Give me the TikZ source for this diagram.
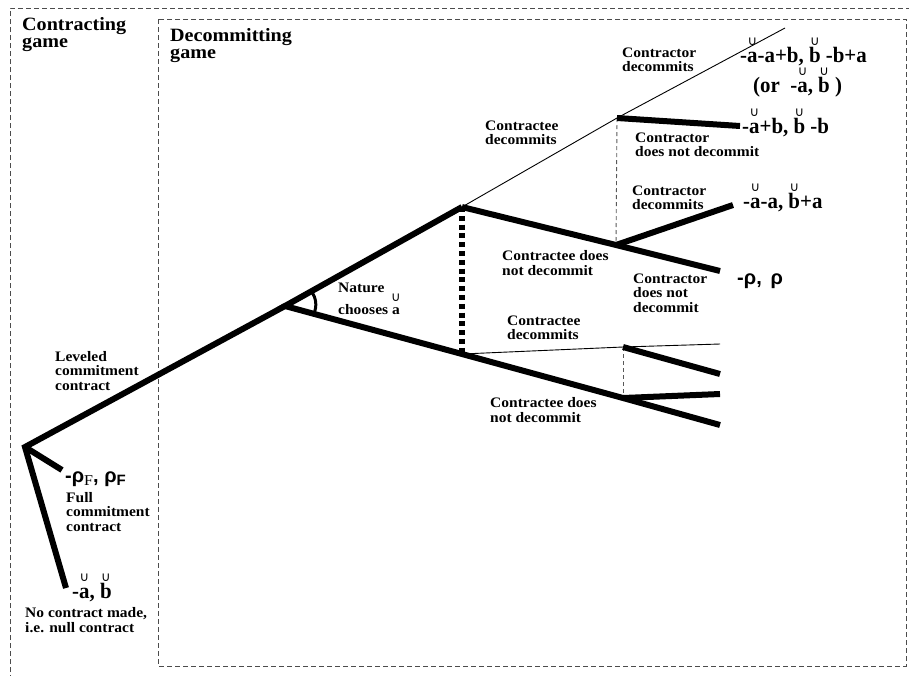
\documentclass[tikz,border=0pt]{standalone}
\usepackage{fontspec}
\setmainfont{Liberation Serif}[FakeStretch=1.07]
\newfontfamily\valfont{Liberation Serif}[FakeStretch=0.95]
\newfontfamily\rhofont{Liberation Sans}
\newfontfamily\cupfont{DejaVu Sans}
\newcommand{\cupon}[2][16.5pt]{\leavevmode\setbox0=\hbox{#2}\rlap{\hbox to \wd0{\hss\raisebox{#1}{\cupfont\mdseries\fontsize{13}{13}\selectfont ∪}\hss}}\box0}
\tikzset{
  thickedge/.style={line width=6pt, line join=miter, line cap=butt},
  thinedge/.style={line width=0.9pt},
  infoset/.style={line width=0.9pt, gray!70!black, dash pattern=on 4pt off 3pt},
  chanceset/.style={line width=6pt, dash pattern=on 5pt off 3.8pt},
  gamebox/.style={line width=0.8pt, gray!60!black, dash pattern=on 5pt off 3pt},
  lbl/.style={font=\bfseries\fontsize{14.5}{14.5}\selectfont, align=left, inner sep=0pt, anchor=west},
  ttl/.style={font=\bfseries\fontsize{18.8}{17}\selectfont, align=left, inner sep=0pt, anchor=west},
  val/.style={font=\valfont\bfseries\fontsize{22}{22}\selectfont, inner sep=0pt, anchor=base west},
  rhoval/.style={font=\rhofont\bfseries\fontsize{20}{20}\selectfont, inner sep=0pt, anchor=base west},
}
\begin{document}
\begin{tikzpicture}[x=1pt,y=-1pt]
\useasboundingbox (0,0) rectangle (909,675);
% boxes
\draw[gamebox] (10,680) -- (10,8) -- (915,8);
\draw[gamebox] (158,19) rectangle (906,666);
% tree coordinates
\coordinate (R) at (25,447);
\coordinate (N) at (285,306);
\coordinate (F) at (62,470);
\coordinate (Z) at (66,588);
\coordinate (U1) at (462,207);
\coordinate (L1) at (462,354);
\coordinate (C1) at (617,118);
\coordinate (C1d) at (785,28);
\coordinate (C1n) at (740,126);
\coordinate (C2) at (616,245);
\coordinate (C2d) at (733,205);
\coordinate (C2n) at (720,271);
\coordinate (C3) at (623,347);
\coordinate (C3d) at (720,344);
\coordinate (C3n) at (720,374);
\coordinate (C4) at (623,398);
\coordinate (C4d) at (720,394);
\coordinate (C4n) at (720,425);
% dashed info sets
\draw[infoset] (C1) -- (C2);
\draw[infoset] (C3) -- (C4);
% chance information set
\draw[chanceset] (U1) -- (L1);
% thin edges
\draw[thinedge] (U1) -- (C1) -- (C1d);
\draw[thinedge] (L1) -- (C3) -- (C3d);
% thick edges
\draw[thickedge] (Z) -- (R) -- (N);
\draw[thickedge] (R) -- (F);
\draw[thickedge] (U1) -- (N) -- (L1) -- (C4) -- (C4n);
\draw[thickedge] (U1) -- (C2) -- (C2n);
\draw[thickedge] (C2) -- (C2d);
\draw[thickedge] (C1) -- (C1n);
\draw[thickedge] (C3) -- (C3n);
\draw[thickedge] (C4) -- (C4d);
% nature arc
\draw[line width=3pt] (313.9,313.9) .. controls (317,306) and (316.5,298) .. (311.1,291.2);
% titles
\node[ttl] (t1) at (22,35) {Contracting\\game};
\node[ttl] (t2) at (170,46) {Decommitting\\game};
% labels
\node[lbl] (l1) at (622,60) {Contractor\\decommits};
\node[val] (v1) at (740,62) {-\cupon{a}-a+b, \cupon{b}\ -b+a};
\node[val] (v1b) at (753,92) {(or\ \ -\cupon{a}, \cupon{b}\ )};
\node[val] (v2) at (742,133) {-\cupon{a}+b, \cupon{b}\ -b};
\node[lbl] (l2) at (635,145) {Contractor\\does not decommit};
\node[lbl] (l3) at (632,198) {Contractor\\decommits};
\node[val] (v3) at (743,208) {-\cupon{a}-a, \cupon{b}+a};
\node[rhoval] (v4) at (737,284) {-ρ,\, ρ};
\node[lbl] (l4) at (633,293) {Contractor\\does not\\decommit};
\node[lbl] (l5) at (485,133) {Contractee\\decommits};
\node[lbl] (l6) at (502,263) {Contractee does\\not decommit};
\node[lbl] (l7) at (507,328) {Contractee\\decommits};
\node[lbl] (l8) at (490,410) {Contractee does\\not decommit};
\node[lbl] (l9) at (338,299) {Nature\\chooses \cupon[13pt]{a}};
\node[lbl] (l10) at (55,371) {Leveled\\commitment\\contract};
\node[rhoval] (v5) at (65,482) {-ρ\raisebox{-3pt}{\normalfont\mdseries\fontsize{15}{15}\selectfont F}, ρ\raisebox{-3pt}{\fontsize{15}{15}\selectfont F}};
\node[lbl] (l11) at (66,512) {Full\\commitment\\contract};
\node[val] (v6) at (72,598) {-\cupon{a}, \cupon{b}};
\node[lbl] (l12) at (25,620) {No contract made,\\i.e. null contract};
\end{tikzpicture}
\end{document}
